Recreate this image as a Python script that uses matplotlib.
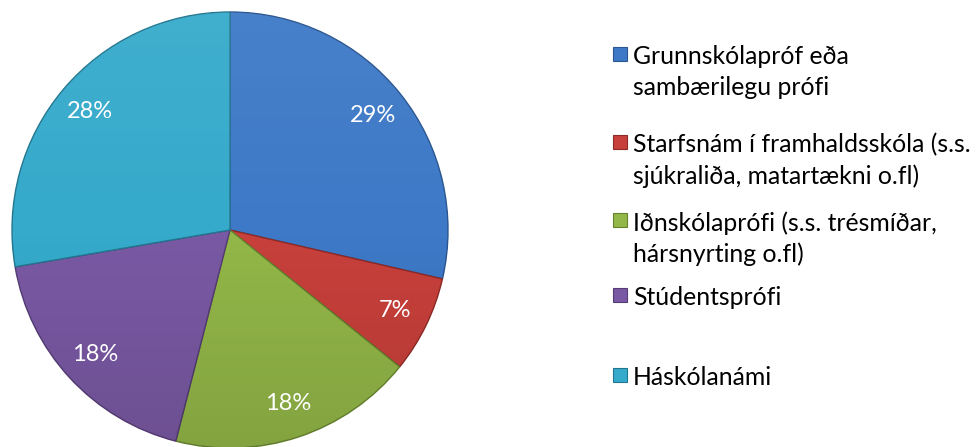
import matplotlib
matplotlib.use("Agg")
import matplotlib.pyplot as plt
import numpy as np
from matplotlib.patches import Rectangle, Circle

categories = [
    "Grunnskólapróf eða\nsambærilegu prófi",
    "Starfsnám í framhaldsskóla (s.s.\nsjúkraliða, matartækni o.fl)",
    "Iðnskólaprófi (s.s. trésmíðar,\nhársnyrting o.fl)",
    "Stúdentsprófi",
    "Háskólanámi",
]
values = [28.6, 7.2, 18.2, 18.3, 27.7]
colors = ["#3D79C7", "#C8403B", "#93B748", "#7A59A4", "#35AACB"]
edge_colors = ["#2A5590", "#8E2A27", "#66822F", "#553C75", "#22768F"]

W, H = 977, 447
fig = plt.figure(figsize=(W / 100, H / 100), dpi=100)
fig.patch.set_facecolor("white")
FONT = ["Lato", "DejaVu Sans"]

cx, cy, R = 230, 230, 218
ax = fig.add_axes([(cx - R) / W, (H - cy - R) / H, 2 * R / W, 2 * R / H])
wedges, texts, autotexts = ax.pie(
    values, colors=colors, startangle=90, counterclock=False,
    radius=1.0, autopct=lambda p: f"{p:.0f}%", pctdistance=0.84,
    wedgeprops=dict(linewidth=1.0, edgecolor="#3a4a5a"),
    textprops=dict(color="white", fontsize=17, family=FONT),
)
for w, ec in zip(wedges, edge_colors):
    w.set_edgecolor(ec)

# subtle shading overlay (lighter top, darker bottom) clipped to the pie
yy = np.linspace(1, -1, 200)[:, None] * np.ones((1, 2))
shade = np.zeros((200, 2, 4))
t = (yy + 1) / 2  # 1 at top, 0 at bottom
shade[..., :3] = np.where(t[..., None] > 0.5, 1.0, 0.0)
shade[..., 3] = np.abs(t - 0.5) * np.where(t > 0.5, 0.12, 0.22)
im = ax.imshow(shade, extent=(-1, 1, -1, 1), zorder=2.5, aspect="auto",
               interpolation="bilinear")
clip = Circle((0, 0), 1.0, transform=ax.transData)
im.set_clip_path(clip)
for t_ in autotexts:
    t_.set_zorder(5)

ax.set_xlim(-1.0, 1.0)
ax.set_ylim(-1.0, 1.0)
ax.set_aspect("equal")
ax.axis("off")

# legend, manually laid out
entry_y = [54, 142, 220, 295, 375]
sz = 14
for cat, col, ec, y in zip(categories, colors, edge_colors, entry_y):
    fig.patches.append(Rectangle((613 / W, (H - y - sz / 2) / H), sz / W, sz / H,
                                 transform=fig.transFigure, facecolor=col,
                                 edgecolor=ec, linewidth=0.8))
    fig.text(633 / W, (H - y + 9.0) / H, cat, ha="left", va="top",
             fontsize=17.8, family=FONT, color="#000000",
             linespacing=1.42)

fig.savefig("out.png", dpi=100)
